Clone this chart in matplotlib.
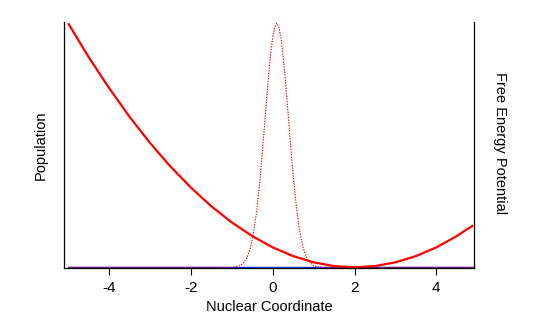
import matplotlib
matplotlib.use("Agg")
import matplotlib.pyplot as plt

plt.rcParams["font.family"] = ["Liberation Sans", "DejaVu Sans"]
plt.rcParams["axes.unicode_minus"] = False

# free energy curve
energy_x = [-5.0, -4.5, -4.0, -3.5, -3.0, -2.5, -2.0, -1.5, -1.0, -0.5, 0.0,
            0.5, 1.0, 1.5, 2.0, 2.5, 3.0, 3.5, 4.0, 4.5, 4.9]
energy_y = [1.0, 0.862, 0.735, 0.617, 0.510, 0.413, 0.327, 0.250, 0.184, 0.128, 0.0816,
            0.0459, 0.0204, 0.0051, 0.0, 0.0051, 0.0204, 0.0459, 0.0816, 0.128, 0.172]

# population peak (dotted)
pop_x = [-5.0, -1.0, -0.9, -0.85, -0.8, -0.75, -0.7, -0.65, -0.6, -0.55, -0.5,
         -0.45, -0.4, -0.35, -0.3, -0.25, -0.2, -0.15, -0.1, -0.05, 0.0,
         0.05, 0.1, 0.15, 0.2, 0.25, 0.3, 0.35, 0.4, 0.45, 0.5,
         0.55, 0.6, 0.65, 0.7, 0.75, 0.8, 0.85, 0.9, 0.95, 1.0,
         1.05, 1.1, 1.2, 4.9]
pop_y = [0.0, 0.0, 0.002, 0.004, 0.007, 0.013, 0.021, 0.033, 0.051, 0.077, 0.113,
         0.160, 0.220, 0.293, 0.379, 0.476, 0.580, 0.685, 0.785, 0.872, 0.941,
         0.985, 1.0, 0.985, 0.941, 0.872, 0.785, 0.685, 0.580, 0.476, 0.379,
         0.293, 0.220, 0.160, 0.113, 0.077, 0.051, 0.033, 0.021, 0.013, 0.007,
         0.004, 0.002, 0.0, 0.0]

baseline_x = [-5.0, 4.9]
baseline_y = [0.0, 0.0]

xticks = [-4, -2, 0, 2, 4]

fig = plt.figure(figsize=(5.33, 3.22), dpi=100)
ax = fig.add_axes([0.1201, 0.1668, 0.7692, 0.7649])

ax.plot(baseline_x, baseline_y, color="#0033ff", lw=1.0)
ax.plot(pop_x, pop_y, color="red", lw=0.8, linestyle=(0, (1.2, 1.2)))
ax.plot(energy_x, energy_y, color="red", lw=1.6, solid_capstyle="butt")

ax.set_xlim(-5.1, 4.92)
ax.set_ylim(-0.004, 1.005)
ax.set_xticks(xticks)
ax.set_yticks([])
ax.tick_params(axis="x", direction="out", length=5, width=0.8, pad=4, labelsize=11)
for side in ["left", "bottom", "right"]:
    ax.spines[side].set_linewidth(0.9)
ax.spines["top"].set_visible(False)

ax.set_xlabel("Nuclear Coordinate", fontsize=10.5, labelpad=4)
ax.set_ylabel("Population", fontsize=10.5, labelpad=12)
ax.text(1.063, 0.509, "Free Energy Potential", transform=ax.transAxes,
        rotation=-90, ha="center", va="center", fontsize=10.5)

fig.savefig("out.png", dpi=100)
